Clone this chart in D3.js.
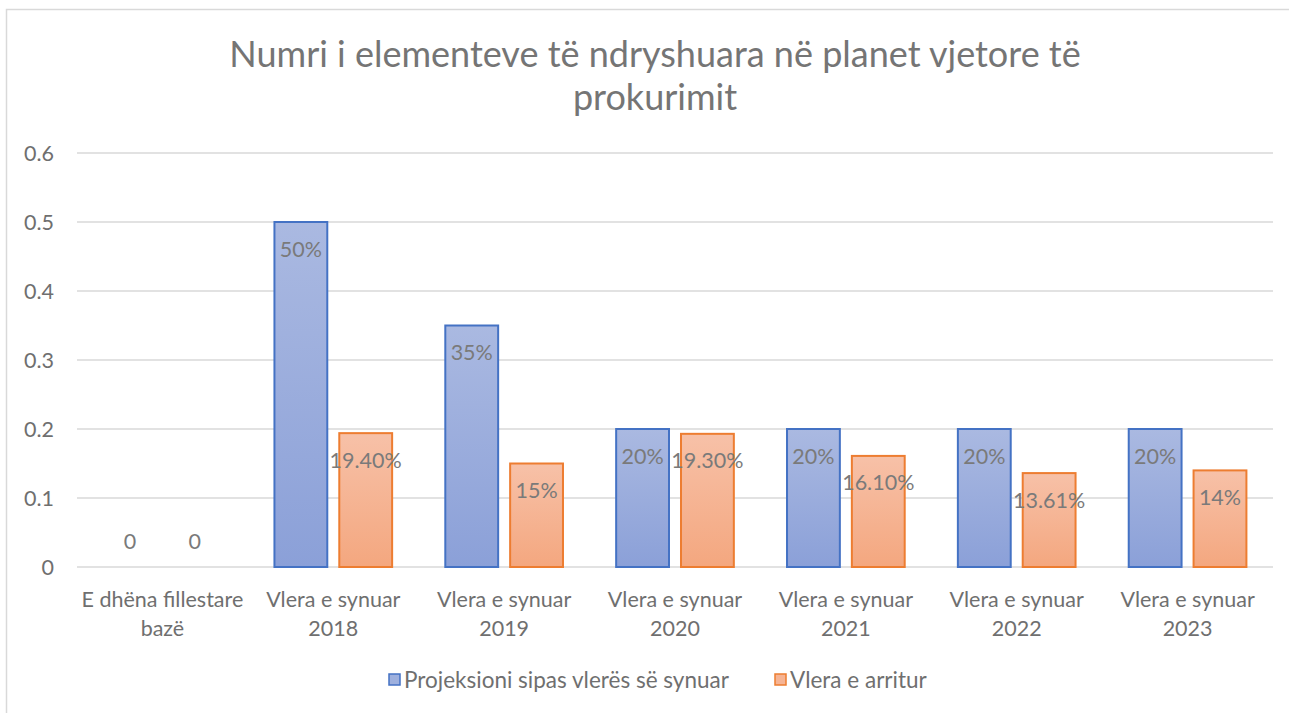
<html>
<head>
<meta charset="utf-8">
<script src="https://d3js.org/d3.v7.min.js"></script>
<style>
  body { margin: 0; background: #fff; }
  text { font-family: Lato, "Open Sans", sans-serif; }
</style>
</head>
<body>
<svg id="chart" width="1289" height="713"></svg>
<script>
// chart data
var categories = [
  ["E dhëna fillestare", "bazë"],
  ["Vlera e synuar", "2018"],
  ["Vlera e synuar", "2019"],
  ["Vlera e synuar", "2020"],
  ["Vlera e synuar", "2021"],
  ["Vlera e synuar", "2022"],
  ["Vlera e synuar", "2023"]
];
var seriesNames = ["Projeksioni sipas vlerës së synuar", "Vlera e arritur"];
var projeksioni = [0, 0.5, 0.35, 0.2, 0.2, 0.2, 0.2];
var arritur = [0, 0.194, 0.15, 0.193, 0.161, 0.1361, 0.14];
var labelsProj = ["0", "50%", "35%", "20%", "20%", "20%", "20%"];
var labelsArr = ["0", "19.40%", "15%", "19.30%", "16.10%", "13.61%", "14%"];
var yTicks = [0, 0.1, 0.2, 0.3, 0.4, 0.5, 0.6];

var svg = d3.select("#chart");
var plotLeft = 77, plotRight = 1273, plotTop = 153, plotBottom = 567;
var fs = 21.5;

// outer frame
svg.append("rect")
  .attr("x", 6.5).attr("y", 9.5)
  .attr("width", 1300).attr("height", 720)
  .attr("fill", "none").attr("stroke", "#d9d9d9").attr("stroke-width", 1.5);

var defs = svg.append("defs");
function grad(id, c1, c2) {
  var g = defs.append("linearGradient").attr("id", id)
    .attr("x1", 0).attr("y1", 0).attr("x2", 0).attr("y2", 1);
  g.append("stop").attr("offset", "0%").attr("stop-color", c1);
  g.append("stop").attr("offset", "100%").attr("stop-color", c2);
}
grad("gBlue", "#aab9e1", "#8ba0d8");
grad("gOrange", "#f7c1a8", "#f4a77f");

var colors = [
  { fill: "url(#gBlue)", stroke: "#4472c4", swatch: "#9eb0de" },
  { fill: "url(#gOrange)", stroke: "#ed7d31", swatch: "#f6b494" }
];

svg.append("text")
  .attr("x", 655).attr("y", 67)
  .attr("text-anchor", "middle")
  .attr("font-size", 36).attr("fill", "#757575")
  .text("Numri i elementeve të ndryshuara në planet vjetore të");
svg.append("text")
  .attr("x", 655).attr("y", 110)
  .attr("text-anchor", "middle")
  .attr("font-size", 36).attr("fill", "#757575")
  .text("prokurimit");

var x = d3.scaleBand().domain(d3.range(categories.length)).range([plotLeft, plotRight]);
var inner = d3.scaleBand().domain([0, 1]).range([0, x.bandwidth()]).paddingInner(0.185).paddingOuter(0.41);
var y = d3.scaleLinear().domain([0, 0.6]).range([plotBottom, plotTop]);

// gridlines
svg.append("g").selectAll("line").data(yTicks).enter().append("line")
  .attr("x1", plotLeft).attr("x2", plotRight)
  .attr("y1", function(d) { return y(d); }).attr("y2", function(d) { return y(d); })
  .attr("stroke", "#d9d9d9").attr("stroke-width", 1.5);

// y axis labels
svg.append("g").selectAll("text").data(yTicks).enter().append("text")
  .attr("x", 54).attr("y", function(d) { return y(d); })
  .attr("dy", "0.35em")
  .attr("text-anchor", "end")
  .attr("font-size", fs).attr("fill", "#6f6f6f")
  .text(function(d) { return d3.format("")(d); });

// x labels
var xl = svg.append("g").selectAll("text").data(categories).enter().append("text")
  .attr("text-anchor", "middle")
  .attr("font-size", fs).attr("fill", "#6f6f6f");
xl.append("tspan").attr("x", function(d, i) { return x(i) + x.bandwidth() / 2; })
  .attr("y", 607).text(function(d) { return d[0]; });
xl.append("tspan").attr("x", function(d, i) { return x(i) + x.bandwidth() / 2; })
  .attr("y", 636).text(function(d) { return d[1]; });

var series = [projeksioni, arritur];
var labels = [labelsProj, labelsArr];

series.forEach(function(vals, s) {
  var g = svg.append("g");
  g.selectAll("rect").data(vals).enter()
    .append("rect")
    .attr("x", function(d, i) { return x(i) + inner(s); })
    .attr("y", function(d) { return y(d); })
    .attr("width", inner.bandwidth())
    .attr("height", function(d) { return y(0) - y(d); })
    .attr("fill", colors[s].fill)
    .attr("stroke", function(d) { return d > 0 ? colors[s].stroke : "none"; })
    .attr("stroke-width", 2);

  g.selectAll("text").data(vals).enter().append("text")
    .attr("x", function(d, i) { return x(i) + inner(s) + inner.bandwidth() / 2; })
    .attr("y", function(d) { return d > 0 ? y(d) + 27 : y(0) - 26; })
    .attr("dy", "0.35em")
    .attr("text-anchor", "middle")
    .attr("font-size", fs).attr("fill", "#7a7a7a")
    .text(function(d, i) { return labels[s][i]; });
});

// legend
var legendItems = [{ x: 388, name: seriesNames[0] }, { x: 774, name: seriesNames[1] }];
legendItems.forEach(function(it, s) {
  svg.append("rect").attr("x", it.x + 1).attr("y", 674).attr("width", 11).attr("height", 11)
    .attr("fill", colors[s].swatch).attr("stroke", colors[s].stroke).attr("stroke-width", 1.5);
  svg.append("text").attr("x", it.x + 16).attr("y", 680).attr("dy", "0.35em")
    .attr("font-size", 22.5).attr("fill", "#6f6f6f").text(it.name);
});
</script>
</body>
</html>
